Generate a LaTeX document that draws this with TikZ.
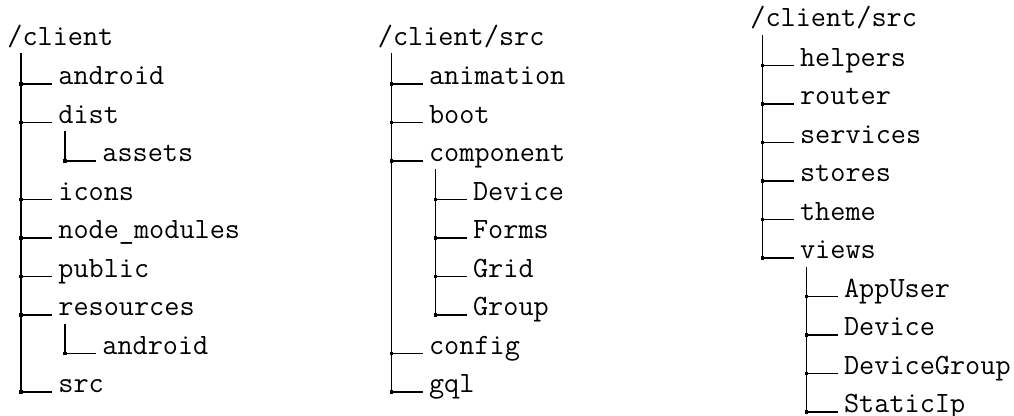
\documentclass[tikz,border=0pt]{standalone}
\begin{document}
\begin{tikzpicture}[x=0.5pt,y=-0.5pt,
  entry/.style={anchor=base west,inner sep=0pt,font=\fontsize{14.7}{17}\selectfont\ttfamily},
  branch/.style={line width=0.65pt,black},
  joint/.style={rectangle,fill=black,inner sep=0pt,minimum size=1.7pt},
]
\useasboundingbox (0,0) rectangle (1014,416);

% ---------- tree 1: /client ----------
\node[entry] (a0) at (7,45.5) {/client};
\coordinate (a0v) at (21,53);
\foreach \n/\x/\vx/\y/\t in {
  a1/58/21/85/android, a2/58/21/123.5/dist, a3/102/65/162/assets,
  a4/58/21/200.5/icons, a5/58/21/239/node\_modules, a6/58/21/277.5/public,
  a7/58/21/316/resources, a8/102/65/354.5/android, a9/58/21/393/src}{
  \node[entry] (\n) at (\x,\y) {\t};
  \node[joint] (j\n) at (\vx,\y-1) {};
  \draw[branch] (j\n.center) -- ([shift={(-6,-1)}]\n.base west);
}
\coordinate (a2v) at (65,131.5);
\coordinate (a7v) at (65,324);
\draw[branch] (a0v) -- (ja9.center);
\draw[branch] (a2v) -- (ja3.center);
\draw[branch] (a7v) -- (ja8.center);

% ---------- tree 2: /client/src ----------
\node[entry] (b0) at (377.5,45.5) {/client/src};
\coordinate (b0v) at (391.7,53);
\foreach \n/\x/\vx/\y/\t in {
  b1/428.7/391.7/85/animation, b2/428.7/391.7/123.5/boot, b3/428.7/391.7/162/component,
  b4/472.7/435.7/200.5/Device, b5/472.7/435.7/239/Forms, b6/472.7/435.7/277.5/Grid,
  b7/472.7/435.7/316/Group, b8/428.7/391.7/354.5/config, b9/428.7/391.7/393/gql}{
  \node[entry] (\n) at (\x,\y) {\t};
  \node[joint] (j\n) at (\vx,\y-1) {};
  \draw[branch] (j\n.center) -- ([shift={(-6,-1)}]\n.base west);
}
\coordinate (b3v) at (435.7,169.5);
\draw[branch] (b0v) -- (jb9.center);
\draw[branch] (b3v) -- (jb7.center);

% ---------- tree 3: /client/src ----------
\node[entry] (c0) at (750,27) {/client/src};
\coordinate (c0v) at (762.7,35);
\foreach \n/\x/\vx/\y/\t in {
  c1/799.7/762.7/66.5/helpers, c2/799.7/762.7/105/router, c3/799.7/762.7/143.5/services,
  c4/799.7/762.7/182/stores, c5/799.7/762.7/220.5/theme, c6/799.7/762.7/259/views,
  c7/843.7/806.7/297.5/AppUser, c8/843.7/806.7/336/Device,
  c9/843.7/806.7/374.5/DeviceGroup, c10/843.7/806.7/413/StaticIp}{
  \node[entry] (\n) at (\x,\y) {\t};
  \node[joint] (j\n) at (\vx,\y-1) {};
  \draw[branch] (j\n.center) -- ([shift={(-6,-1)}]\n.base west);
}
\coordinate (c6v) at (806.7,267);
\draw[branch] (c0v) -- (jc6.center);
\draw[branch] (c6v) -- (jc10.center);
\end{tikzpicture}
\end{document}
